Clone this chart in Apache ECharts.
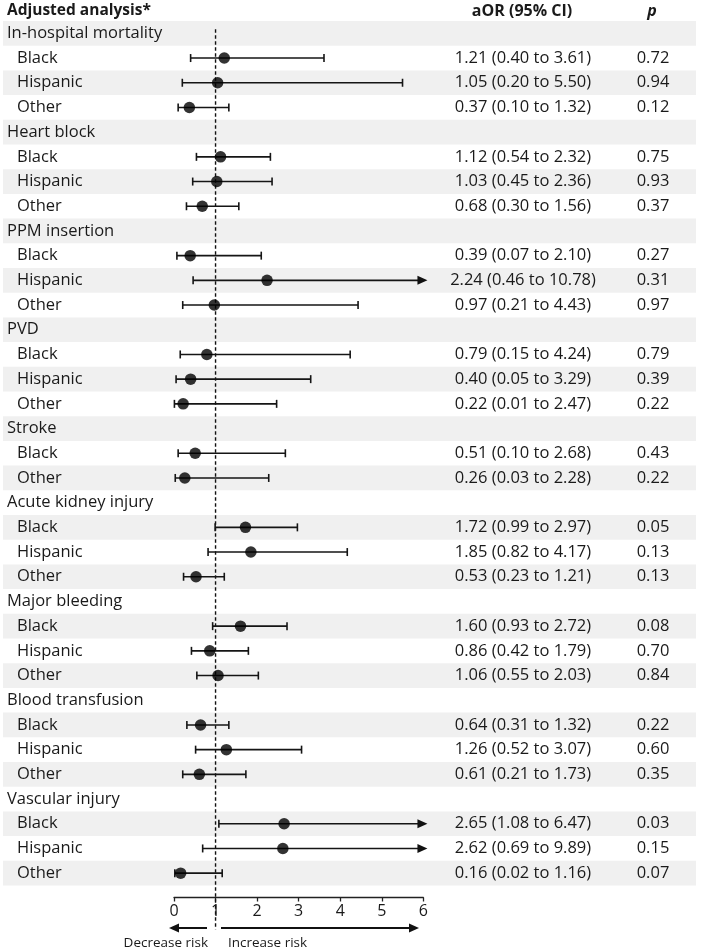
<!DOCTYPE html>
<html>
<head>
<meta charset="utf-8">
<script src="https://cdn.jsdelivr.net/npm/echarts@6/dist/echarts.min.js"></script>
<style>
html,body{margin:0;padding:0;background:#fff;}
#chart{width:709px;height:952px;}
</style>
</head>
<body>
<div id="chart"></div>
<script>
// ---- data ----
const outcomes = ["In-hospital mortality","Heart block","PPM insertion","PVD","Stroke","Acute kidney injury","Major bleeding","Blood transfusion","Vascular injury"];
const subgroups = [
  ["Black","Hispanic","Other"],
  ["Black","Hispanic","Other"],
  ["Black","Hispanic","Other"],
  ["Black","Hispanic","Other"],
  ["Black","Other"],
  ["Black","Hispanic","Other"],
  ["Black","Hispanic","Other"],
  ["Black","Hispanic","Other"],
  ["Black","Hispanic","Other"]
];
const aOR = [[1.21,1.05,0.37],[1.12,1.03,0.68],[0.39,2.24,0.97],[0.79,0.40,0.22],[0.51,0.26],[1.72,1.85,0.53],[1.60,0.86,1.06],[0.64,1.26,0.61],[2.65,2.62,0.16]];
const ciLow = [[0.40,0.20,0.10],[0.54,0.45,0.30],[0.07,0.46,0.21],[0.15,0.05,0.01],[0.10,0.03],[0.99,0.82,0.23],[0.93,0.42,0.55],[0.31,0.52,0.21],[1.08,0.69,0.02]];
const ciHigh = [[3.61,5.50,1.32],[2.32,2.36,1.56],[2.10,10.78,4.43],[4.24,3.29,2.47],[2.68,2.28],[2.97,4.17,1.21],[2.72,1.79,2.03],[1.32,3.07,1.73],[6.47,9.89,1.16]];
const pValues = [["0.72","0.94","0.12"],["0.75","0.93","0.37"],["0.27","0.31","0.97"],["0.79","0.39","0.22"],["0.43","0.22"],["0.05","0.13","0.13"],["0.08","0.70","0.84"],["0.22","0.60","0.35"],["0.03","0.15","0.07"]];
const xTicks = [0,1,2,3,4,5,6];
const refValue = 1;
const axisMin = 0, axisMax = 6;

// ---- build rows ----
const rows = [];
let r = 1;
outcomes.forEach((g, gi) => {
  rows.push({row: r++, label: g, group: true});
  subgroups[gi].forEach((s, si) => {
    rows.push({row: r++, label: s, group: false, or: aOR[gi][si], lo: ciLow[gi][si], hi: ciHigh[gi][si], p: pValues[gi][si]});
  });
});
const nRows = rows.length;

const FONT = '"Open Sans", Lato, sans-serif';
const FS = '16.5px ';
const TXT = '#1a1a1a';
const fmt = v => v.toFixed(2);

const chart = echarts.init(document.getElementById('chart'), null, {renderer: 'canvas'});

const option = {
  animation: false,
  backgroundColor: '#fff',
  grid: {left: 174, width: 249.3, top: 21, height: nRows * 24.7},
  xAxis: {
    type: 'value', min: axisMin, max: axisMax, interval: 1, offset: 12,
    axisLine: {show: true, lineStyle: {color: '#222', width: 1.3}},
    axisTick: {show: true, inside: false, length: 4, lineStyle: {color: '#222', width: 1.3}},
    axisLabel: {color: TXT, fontSize: 16, fontFamily: FONT, margin: 6, formatter: v => xTicks.includes(v) ? String(v) : ''},
    splitLine: {show: false}
  },
  yAxis: {type: 'value', min: 0.5, max: nRows + 0.5, inverse: true, show: false},
  graphic: [
    {type: 'text', x: 7, y: 11, style: {text: 'Adjusted analysis*', font: 'bold 15.5px ' + FONT, fill: TXT, align: 'left', verticalAlign: 'middle'}},
    {type: 'text', x: 522, y: 11, style: {text: 'aOR (95% CI)', font: 'bold 16px ' + FONT, fill: TXT, align: 'center', verticalAlign: 'middle'}},
    {type: 'text', x: 652, y: 11, style: {text: 'p', font: 'italic bold 16px ' + FONT, fill: TXT, align: 'center', verticalAlign: 'middle'}},
    // bottom arrows
    {type: 'line', shape: {x1: 207, y1: 928, x2: 177, y2: 928}, style: {stroke: '#111', lineWidth: 2}},
    {type: 'polygon', shape: {points: [[169, 928], [179, 923.5], [179, 932.5]]}, style: {fill: '#111'}},
    {type: 'line', shape: {x1: 221, y1: 928, x2: 410, y2: 928}, style: {stroke: '#111', lineWidth: 2}},
    {type: 'polygon', shape: {points: [[419, 928], [409, 923.5], [409, 932.5]]}, style: {fill: '#111'}},
    {type: 'text', x: 208, y: 943, style: {text: 'Decrease risk', font: '13.5px ' + FONT, fill: TXT, align: 'right', verticalAlign: 'middle'}},
    {type: 'text', x: 228, y: 943, style: {text: 'Increase risk', font: '13.5px ' + FONT, fill: TXT, align: 'left', verticalAlign: 'middle'}}
  ],
  series: [
    {
      type: 'custom', z: 0, silent: true,
      data: rows.filter(d => d.row % 2 === 1).map(d => [0, d.row]),
      renderItem: (params, api) => {
        const row = api.value(1);
        const y1 = api.coord([0, row - 0.5])[1];
        const y2 = api.coord([0, row + 0.5])[1];
        return {type: 'rect', shape: {x: 3, y: y1, width: 693, height: y2 - y1}, style: {fill: '#f0f0f0'}};
      }
    },
    {
      type: 'custom', z: 2, silent: true,
      data: rows.map((d, i) => [0, d.row, i]),
      renderItem: (params, api) => {
        const d = rows[api.value(2)];
        const y = api.coord([0, d.row])[1];
        const base = {font: FS + FONT, fill: TXT, verticalAlign: 'middle', textVerticalAlign: 'middle'};
        const children = [{
          type: 'text', x: d.group ? 7 : 17, y: y,
          style: Object.assign({text: d.label, align: 'left', textAlign: 'left'}, base)
        }];
        if (!d.group) {
          children.push({
            type: 'text', x: 523, y: y,
            style: Object.assign({text: fmt(d.or) + ' (' + fmt(d.lo) + ' to ' + fmt(d.hi) + ')', align: 'center', textAlign: 'center'}, base)
          });
          children.push({
            type: 'text', x: 653, y: y,
            style: Object.assign({text: d.p, align: 'center', textAlign: 'center'}, base)
          });
        }
        return {type: 'group', children: children};
      }
    },
    {
      type: 'custom', z: 3, silent: true,
      data: [[refValue]],
      renderItem: (params, api) => {
        const x = api.coord([api.value(0), 1])[0];
        const yTop = api.coord([api.value(0), 1])[1] - 4;
        const yBot = api.coord([api.value(0), nRows + 0.5])[1] + 44;
        return {type: 'line', shape: {x1: x, y1: yTop, x2: x, y2: yBot}, style: {stroke: '#111', lineWidth: 1.4, lineDash: [3.5, 2.5]}};
      }
    },
    {
      type: 'custom', z: 4, silent: true,
      data: rows.filter(d => !d.group).map(d => [d.lo, d.hi, d.row]),
      renderItem: (params, api) => {
        const lo = api.value(0), hi = api.value(1), row = api.value(2);
        const clipped = hi > axisMax;
        const p1 = api.coord([lo, row]);
        const p2 = api.coord([clipped ? axisMax + 0.1 : hi, row]);
        const st = {stroke: '#151515', lineWidth: 1.6};
        const ch = [
          {type: 'line', shape: {x1: p1[0], y1: p1[1], x2: clipped ? p2[0] - 8 : p2[0], y2: p2[1]}, style: st},
          {type: 'line', shape: {x1: p1[0], y1: p1[1] - 4, x2: p1[0], y2: p1[1] + 4}, style: st}
        ];
        if (clipped) {
          ch.push({type: 'polygon', shape: {points: [[p2[0], p2[1]], [p2[0] - 10, p2[1] - 4.5], [p2[0] - 10, p2[1] + 4.5]]}, style: {fill: '#111'}});
        } else {
          ch.push({type: 'line', shape: {x1: p2[0], y1: p2[1] - 4, x2: p2[0], y2: p2[1] + 4}, style: st});
        }
        return {type: 'group', children: ch};
      }
    },
    {
      type: 'scatter', z: 5, silent: true,
      symbol: 'circle', symbolSize: 11.5,
      itemStyle: {color: '#000'},
      data: rows.filter(d => !d.group).map(d => [d.or, d.row])
    }
  ]
};
chart.setOption(option);
</script>
</body>
</html>
